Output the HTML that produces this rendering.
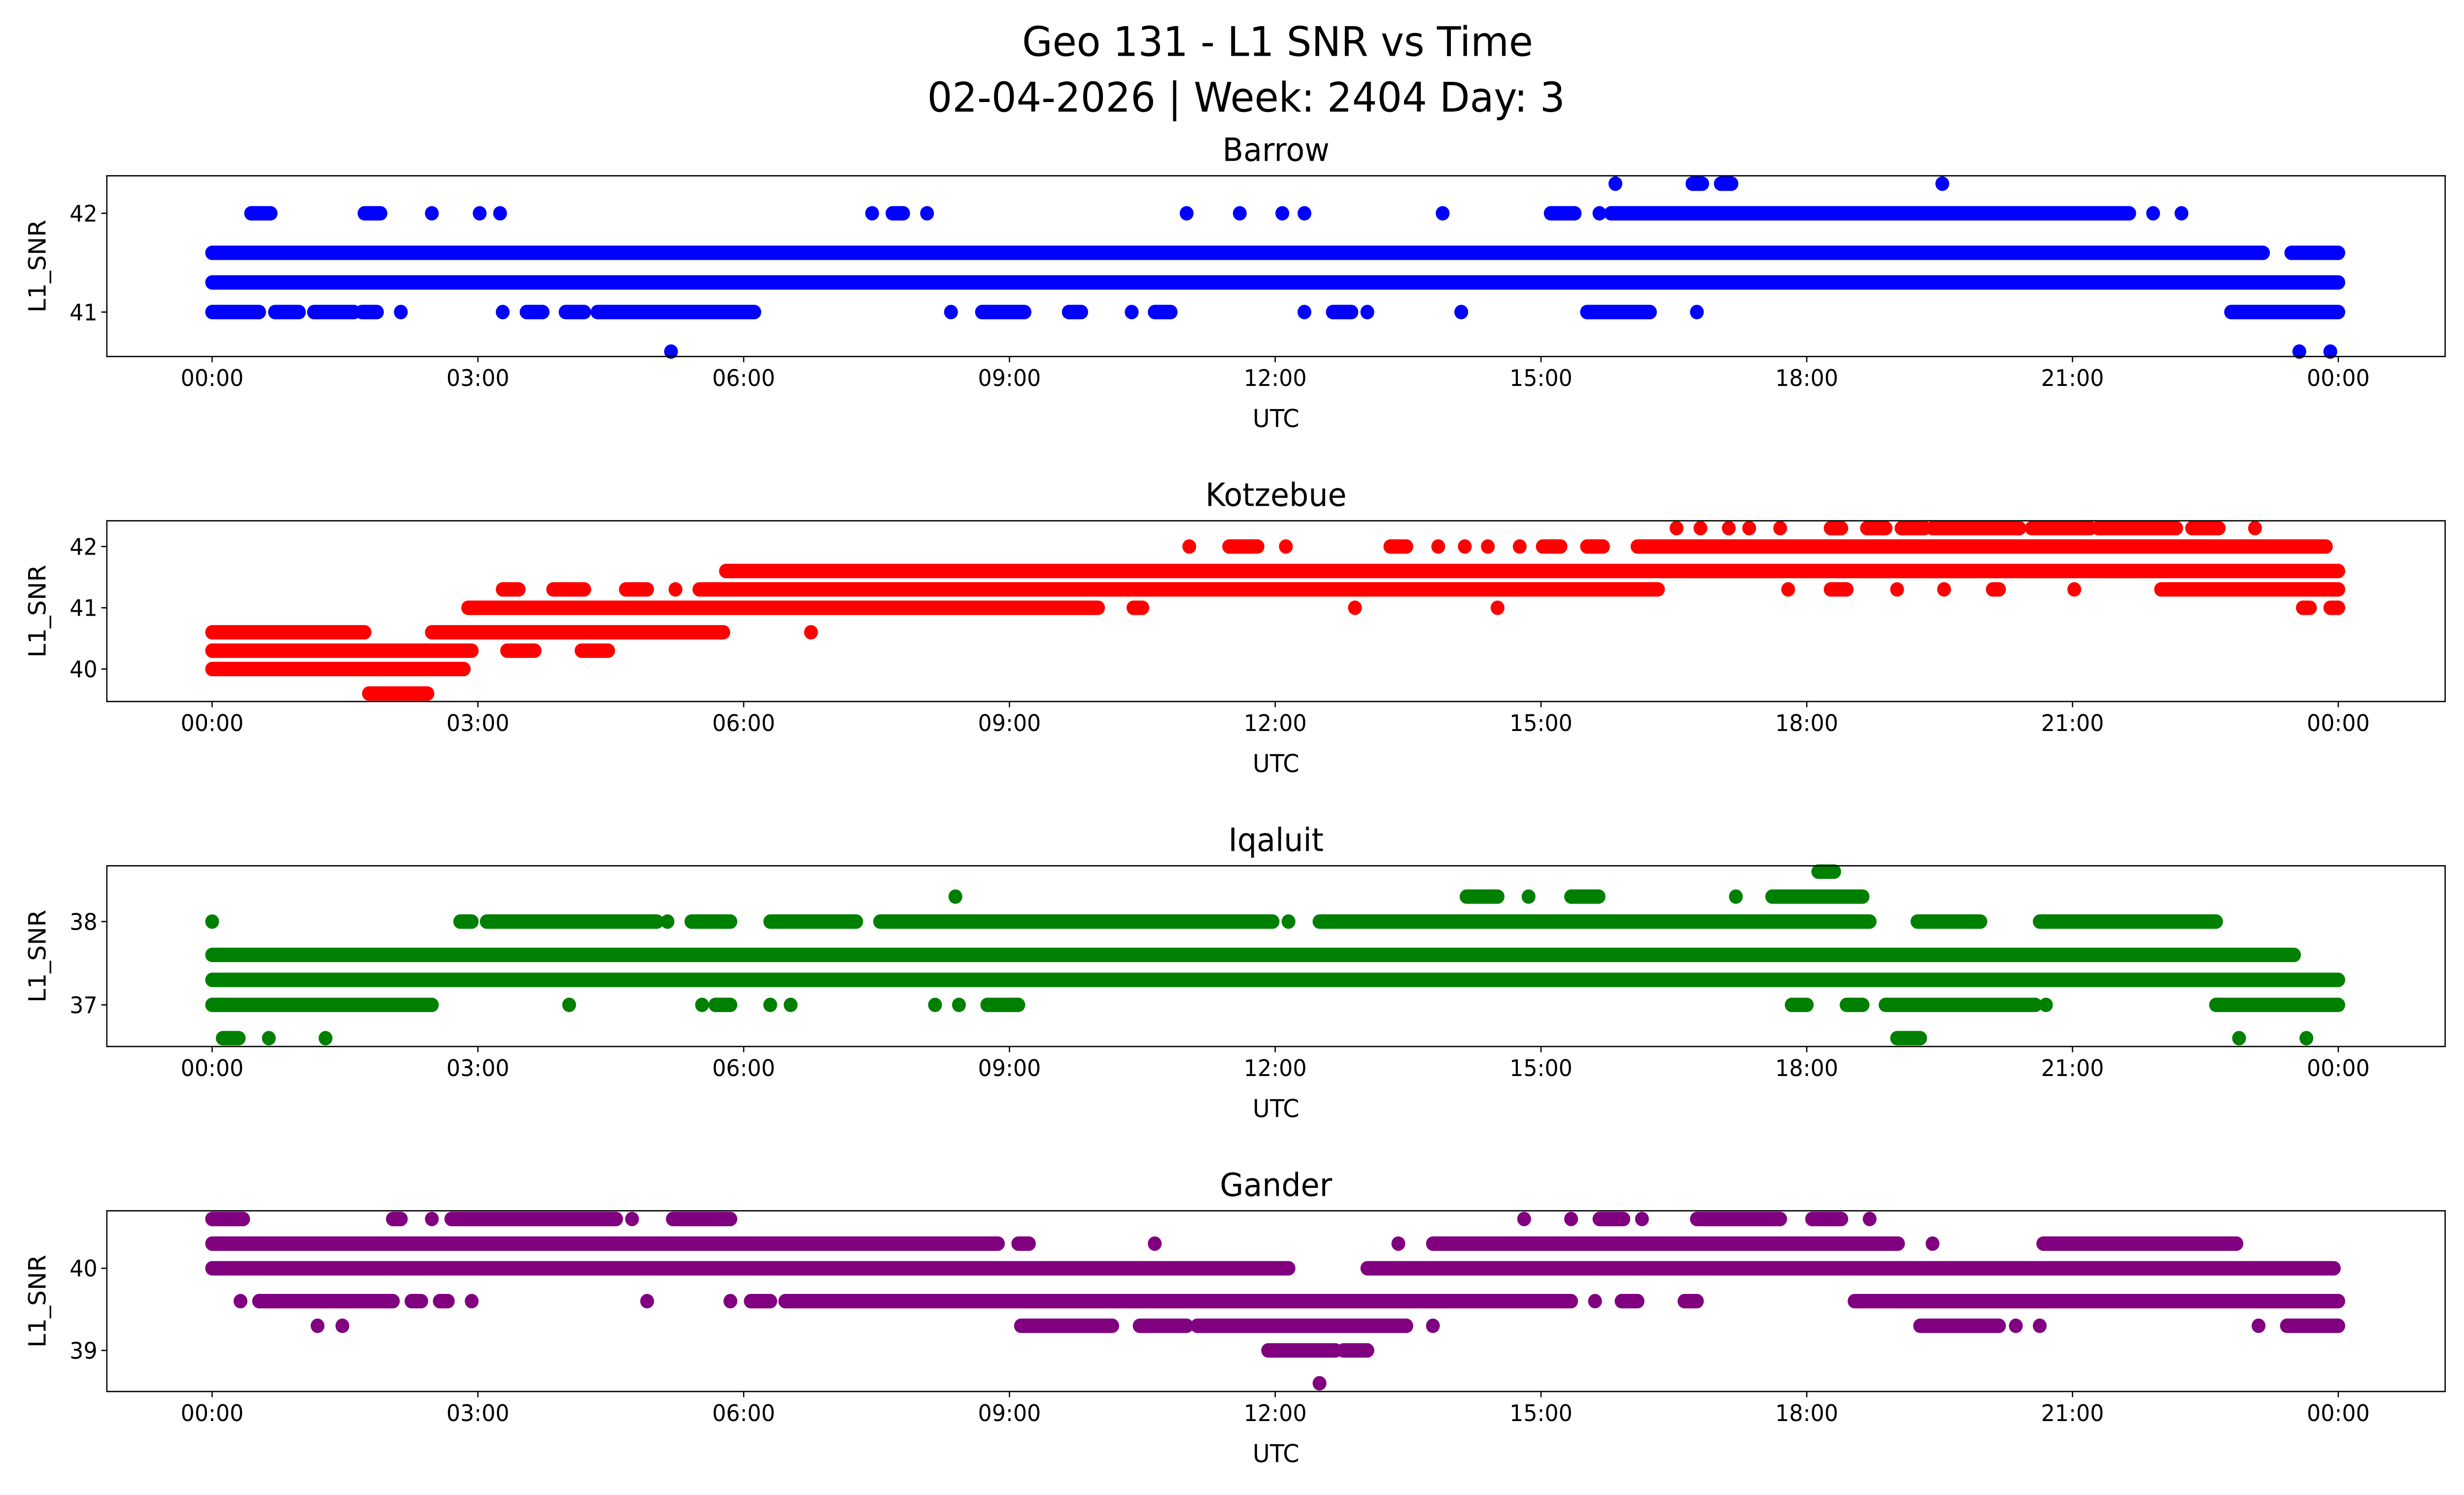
<!DOCTYPE html>
<html><head><meta charset="utf-8"><style>
html,body{margin:0;padding:0;background:#fff;overflow:hidden;width:100%;height:100%}
svg{display:block;width:100vw;height:100vh}
text{font-family:"DejaVu Sans","Liberation Sans",sans-serif;fill:#000}
</style></head><body>
<svg id="fig" viewBox="0 0 1568 910" preserveAspectRatio="none" xmlns="http://www.w3.org/2000/svg">
<rect width="1568" height="910" fill="#fff"/>
<text x="813" y="34" font-size="25" text-anchor="middle">Geo 131 - L1 SNR vs Time</text>
<text x="793" y="68" font-size="25" text-anchor="middle">02-04-2026 | Week: 2404 Day: 3</text>
</svg>
<script>
// x tick labels (hours)
const xTickHours = [0,3,6,9,12,15,18,21,24];
const xTickLabels = ["00:00","03:00","06:00","09:00","12:00","15:00","18:00","21:00","00:00"];
const stationNames = ["Barrow","Kotzebue","Iqaluit","Gander"];
const stationColors = ["#0000ff","#ff0000","#008000","#800080"];
const yTicksBarrow = [41,42];
const yTicksKotzebue = [40,41,42];
const yTicksIqaluit = [37,38];
const yTicksGander = [39,40];
const yRanges = [[40.55,42.38],[39.47,42.42],[36.5,38.67],[38.5,40.7]];
// observations: [value, startHour, endHour] (dense runs of samples; single sample when start==end)
const barrowObs = [
[41.6,0,23.15],[41.6,23.47,24],[41.3,0,24],
[41.0,0,0.53],[41.0,0.71,0.98],[41.0,1.15,1.6],[41.0,1.69,1.86],[41.0,2.13,2.13],[41.0,3.28,3.28],[41.0,3.55,3.73],[41.0,3.99,4.2],[41.0,4.35,6.12],[41.0,8.34,8.34],[41.0,8.69,9.17],[41.0,9.67,9.81],[41.0,10.38,10.38],[41.0,10.64,10.82],[41.0,12.33,12.33],[41.0,12.65,12.86],[41.0,13.04,13.04],[41.0,14.1,14.1],[41.0,15.52,16.23],[41.0,16.76,16.76],[41.0,22.79,24],
[42.0,0.44,0.66],[42.0,1.72,1.9],[42.0,2.48,2.48],[42.0,3.02,3.02],[42.0,3.25,3.25],[42.0,7.45,7.45],[42.0,7.68,7.8],[42.0,8.07,8.07],[42.0,11.0,11.0],[42.0,11.6,11.6],[42.0,12.08,12.08],[42.0,12.33,12.33],[42.0,13.89,13.89],[42.0,15.11,15.38],[42.0,15.66,15.66],[42.0,15.79,21.64],[42.0,21.91,21.91],[42.0,22.23,22.23],
[42.3,15.84,15.84],[42.3,16.71,16.82],[42.3,17.03,17.15],[42.3,19.53,19.53],
[40.6,5.18,5.18],[40.6,23.56,23.56],[40.6,23.91,23.91]];
const kotzebueObs = [
[40.0,0,2.84],[40.3,0,2.93],[40.6,0,1.72],[40.6,2.48,5.77],[40.6,6.76,6.76],[39.6,1.77,2.43],
[41.0,2.89,10.0],[41.0,10.4,10.5],[41.0,12.9,12.9],[41.0,14.51,14.51],
[40.3,3.33,3.64],[40.3,4.17,4.47],
[41.3,3.28,3.46],[41.3,3.85,4.2],[41.3,4.67,4.91],[41.3,5.23,5.23],[41.3,5.5,16.32],[41.3,17.79,17.79],[41.3,18.27,18.45],[41.3,19.02,19.02],[41.3,19.55,19.55],[41.3,20.1,20.17],[41.3,21.02,21.02],[41.3,22.0,24],
[41.6,5.8,24],
[42.0,11.03,11.03],[42.0,11.48,11.8],[42.0,12.12,12.12],[42.0,13.3,13.48],[42.0,13.84,13.84],[42.0,14.14,14.14],[42.0,14.4,14.4],[42.0,14.76,14.76],[42.0,15.02,15.22],[42.0,15.52,15.7],[42.0,16.09,23.86],
[42.3,16.53,16.53],[42.3,16.8,16.8],[42.3,17.12,17.12],[42.3,17.35,17.35],[42.3,17.7,17.7],[42.3,18.27,18.39],[42.3,18.68,18.89],[42.3,19.07,19.33],[42.3,19.42,20.4],[42.3,20.54,21.2],[42.3,21.29,22.17],[42.3,22.35,22.65],[42.3,23.06,23.06],
[41.0,23.6,23.68],[41.0,23.91,24]];
const iqaluitObs = [
[37.0,0,2.48],[37.0,4.03,4.03],[37.0,5.53,5.53],[37.0,5.68,5.85],[37.0,6.3,6.3],[37.0,6.53,6.53],[37.0,8.16,8.16],[37.0,8.43,8.43],[37.0,8.75,9.1],[37.0,17.83,18.0],[37.0,18.45,18.63],[37.0,18.89,20.58],[37.0,20.7,20.7],[37.0,22.62,24],
[36.6,0.12,0.3],[36.6,0.64,0.64],[36.6,1.28,1.28],[36.6,19.02,19.28],[36.6,22.88,22.88],[36.6,23.64,23.64],
[37.3,0,24],[37.6,0,23.5],
[38.0,0,0],[38.0,2.8,2.93],[38.0,3.1,5.02],[38.0,5.14,5.14],[38.0,5.41,5.85],[38.0,6.3,7.27],[38.0,7.54,11.97],[38.0,12.15,12.15],[38.0,12.5,18.71],[38.0,19.25,19.96],[38.0,20.63,22.62],
[38.3,8.39,8.39],[38.3,14.16,14.51],[38.3,14.86,14.86],[38.3,15.34,15.65],[38.3,17.2,17.2],[38.3,17.61,18.63],
[38.6,18.13,18.31]];
const ganderObs = [
[40.0,0,12.15],[40.0,13.04,23.95],
[40.3,0,8.87],[40.3,9.1,9.22],[40.3,10.64,10.64],[40.3,13.39,13.39],[40.3,13.78,19.03],[40.3,19.42,19.42],[40.3,20.67,22.85],
[40.6,0,0.35],[40.6,2.04,2.13],[40.6,2.48,2.48],[40.6,2.7,4.56],[40.6,4.74,4.74],[40.6,5.2,5.85],[40.6,14.81,14.81],[40.6,15.34,15.34],[40.6,15.66,15.93],[40.6,16.14,16.14],[40.6,16.76,17.7],[40.6,18.06,18.39],[40.6,18.71,18.71],
[39.6,0.32,0.32],[39.6,0.53,2.04],[39.6,2.25,2.36],[39.6,2.57,2.66],[39.6,2.93,2.93],[39.6,4.91,4.91],[39.6,5.85,5.85],[39.6,6.08,6.3],[39.6,6.47,15.34],[39.6,15.61,15.61],[39.6,15.91,16.09],[39.6,16.62,16.76],[39.6,18.54,24],
[39.3,1.19,1.19],[39.3,1.47,1.47],[39.3,9.13,10.16],[39.3,10.47,11.0],[39.3,11.12,13.48],[39.3,13.78,13.78],[39.3,19.28,20.17],[39.3,20.36,20.36],[39.3,20.63,20.63],[39.3,23.1,23.1],[39.3,23.42,24],
[39.0,11.92,12.68],[39.0,12.77,13.04],[38.6,12.5,12.5]];

const allObs=[barrowObs,kotzebueObs,iqaluitObs,ganderObs];
const allYTicks=[yTicksBarrow,yTicksKotzebue,yTicksIqaluit,yTicksGander];
const NS="http://www.w3.org/2000/svg";
const svg=document.getElementById('fig');
const AX_L=68,AX_R=1556,AX_H=110,TOPS=[107,317,527,737],R=4.4;
function xScale(h){return 135+h*(1488-135)/24;}
function yScale(i,v){const r=yRanges[i];return TOPS[i]+AX_H-(v-r[0])/(r[1]-r[0])*AX_H;}
function mk(tag,attrs,parent){const e=document.createElementNS(NS,tag);for(const k in attrs)e.setAttribute(k,attrs[k]);(parent||svg).appendChild(e);return e;}
for(let i=0;i<4;i++){
  const g=mk('g',{});
  
  
  const top=TOPS[i];
  const t=mk('text',{x:(AX_L+AX_R)/2,y:top-9,'font-size':19.4,'text-anchor':'middle'},g);
  t.textContent=stationNames[i];
  
  
  const sg=mk('g',{fill:stationColors[i],stroke:stationColors[i]},g);
  
  
  allObs[i].forEach(o=>{
    const y=yScale(i,o[0]),x1=xScale(o[1]),x2=xScale(o[2]);
    let m;
    if(x2-x1<0.5){m=mk('circle',{cx:x1,cy:y,r:R,stroke:'none'},sg);}
    else{m=mk('line',{x1:x1,x2:x2,y1:y,y2:y,'stroke-width':2*R,'stroke-linecap':'round'},sg);}
    
    
  });
  const fr=mk('rect',{x:AX_L,y:top,width:AX_R-AX_L,height:AX_H,fill:'none',stroke:'#000','stroke-width':0.8},g);
  
  
  xTickHours.forEach((h,k)=>{
    const x=xScale(h);
    mk('line',{x1:x,x2:x,y1:top+AX_H,y2:top+AX_H+3.5,stroke:'#000','stroke-width':0.8},g);
    const tl=mk('text',{x:x,y:top+AX_H+18,'font-size':13.9,'text-anchor':'middle'},g);
    tl.textContent=xTickLabels[k];
    
    
  });
  allYTicks[i].forEach(v=>{
    const y=yScale(i,v);
    mk('line',{x1:AX_L-3.5,x2:AX_L,y1:y,y2:y,stroke:'#000','stroke-width':0.8},g);
    const tl=mk('text',{x:AX_L-6,y:y+5,'font-size':13.9,'text-anchor':'end'},g);
    tl.textContent=String(v);
    
    
  });
  const xl=mk('text',{x:(AX_L+AX_R)/2,y:top+AX_H+43,'font-size':15,'text-anchor':'middle'},g);
  xl.textContent='UTC';
  
  
  const cy=top+AX_H/2;
  const yl=mk('text',{x:0,y:0,'font-size':15,'text-anchor':'middle',transform:`translate(29,${cy}) rotate(-90)`},g);
  yl.textContent='L1_SNR';
  
  
}
</script>
</body></html>
